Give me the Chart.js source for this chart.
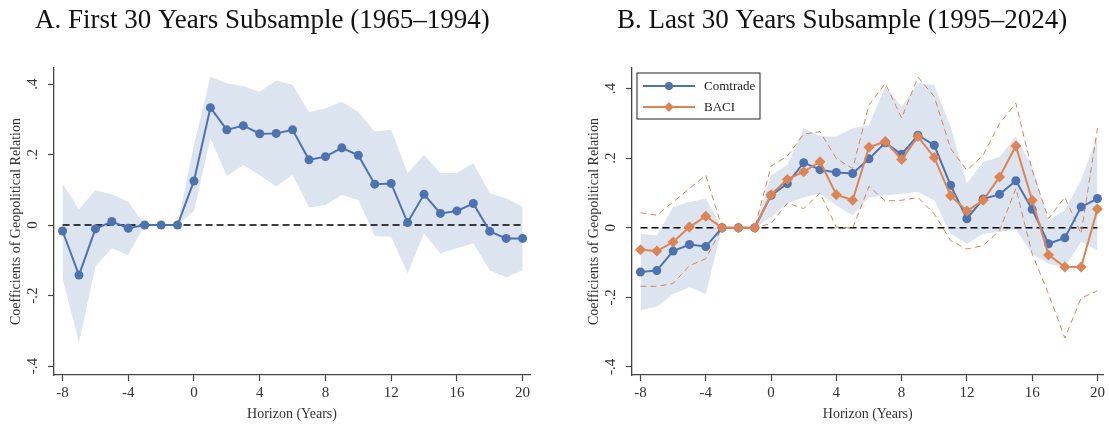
<!DOCTYPE html>
<html>
<head>
<meta charset="utf-8">
<script src="https://cdn.jsdelivr.net/npm/chart.js@4.4.1/dist/chart.umd.min.js"></script>
<style>
body { margin: 0; background: #fff; width: 1109px; height: 429px; position: relative; overflow: hidden; }
.panel { position: absolute; top: 0; height: 429px; }
#leftBox { left: 0; width: 554px; }
#rightBox { left: 578px; width: 531px; }
</style>
</head>
<body>
<div class="panel" id="leftBox"><canvas id="chartA"></canvas></div>
<div class="panel" id="rightBox"><canvas id="chartB"></canvas></div>
<script>
// horizons -8 .. 20
const horizons = [-8, -7, -6, -5, -4, -3, -2, -1, 0, 1, 2, 3, 4, 5, 6, 7, 8, 9, 10, 11, 12, 13, 14, 15, 16, 17, 18, 19, 20];
const xTicks = [-8, -4, 0, 4, 8, 12, 16, 20];
const yTicks = [-0.4, -0.2, 0, 0.2, 0.4];

// Panel A: 1965-1994
const firstCoef  = [-0.017, -0.142, -0.011, 0.010, -0.009, 0, 0, 0, 0.125, 0.333, 0.270, 0.282, 0.259, 0.260, 0.270, 0.185, 0.194, 0.219, 0.198, 0.116, 0.118, 0.007, 0.087, 0.033, 0.040, 0.061, -0.018, -0.038, -0.038];
const firstUpper = [0.118, 0.045, 0.099, 0.087, 0.066, 0, 0, 0, 0.227, 0.420, 0.402, 0.394, 0.378, 0.410, 0.397, 0.321, 0.331, 0.350, 0.321, 0.265, 0.270, 0.147, 0.199, 0.147, 0.148, 0.175, 0.090, 0.076, 0.052];
const firstLower = [-0.151, -0.334, -0.118, -0.066, -0.085, 0, 0, 0, 0.040, 0.246, 0.139, 0.170, 0.142, 0.109, 0.142, 0.050, 0.057, 0.085, 0.071, -0.031, -0.033, -0.137, -0.024, -0.080, -0.066, -0.052, -0.128, -0.148, -0.128];

// Panel B: 1995-2024
const comtradeCoef  = [-0.127, -0.123, -0.067, -0.048, -0.054, 0, 0, 0, 0.093, 0.127, 0.187, 0.167, 0.159, 0.156, 0.198, 0.244, 0.211, 0.266, 0.237, 0.122, 0.026, 0.083, 0.096, 0.135, 0.053, -0.046, -0.029, 0.060, 0.084];
const comtradeUpper = [-0.017, -0.022, 0.060, 0.074, 0.084, 0, 0, 0, 0.151, 0.180, 0.286, 0.263, 0.262, 0.286, 0.295, 0.406, 0.348, 0.415, 0.410, 0.290, 0.127, 0.189, 0.204, 0.262, 0.175, 0.021, 0.050, 0.137, 0.266];
const comtradeLower = [-0.237, -0.227, -0.190, -0.171, -0.190, 0, 0, 0, 0.031, 0.069, 0.088, 0.098, 0.064, 0.036, 0.088, 0.093, 0.098, 0.103, 0.079, -0.017, -0.046, -0.017, -0.012, -0.005, -0.075, -0.104, -0.113, -0.040, -0.065];
const baciCoef  = [-0.063, -0.067, -0.041, 0.002, 0.033, 0, 0, 0, 0.095, 0.139, 0.161, 0.190, 0.095, 0.079, 0.231, 0.248, 0.196, 0.262, 0.202, 0.092, 0.048, 0.079, 0.146, 0.235, 0.079, -0.078, -0.113, -0.113, 0.054];
const baciUpper = [0.043, 0.036, 0.074, 0.113, 0.151, 0, 0, 0, 0.177, 0.206, 0.269, 0.276, 0.199, 0.170, 0.353, 0.415, 0.315, 0.433, 0.377, 0.228, 0.165, 0.209, 0.300, 0.358, 0.165, 0.026, 0.088, -0.017, 0.286];
const baciLower = [-0.168, -0.168, -0.160, -0.109, -0.089, 0, 0, 0, 0.012, 0.071, 0.055, 0.100, 0.002, -0.001, 0.119, 0.077, 0.079, 0.087, 0.040, -0.037, -0.061, -0.051, -0.008, 0.113, -0.075, -0.190, -0.317, -0.202, -0.181];

const BLUE = "rgb(76, 114, 176)";
const ORANGE = "rgb(221, 132, 82)";
const BAND = "rgb(220, 228, 239)";
const AXIS = "#444";
const SERIF = "'Liberation Serif', 'DejaVu Serif', serif";

function pts(vals) {
    return horizons.map((h, i) => ({ x: h, y: vals[i] }));
}

function fmtY(v) {
    if (Math.abs(v) < 1e-9) return "0";
    return (v < 0 ? "-" : "") + Math.abs(v).toFixed(1).replace(/^0/, "");
}

function zeroLine() {
    return {
        label: "zero",
        data: [{ x: horizons[0], y: 0 }, { x: horizons[horizons.length - 1], y: 0 }],
        borderColor: "#000",
        borderWidth: 1.5,
        borderDash: [7, 4],
        pointRadius: 0,
        fill: false
    };
}

function bandPair(upper, lower) {
    return [
        { label: "upper", data: pts(upper), borderWidth: 0, pointRadius: 0, backgroundColor: BAND, fill: "+1", tension: 0 },
        { label: "lower", data: pts(lower), borderWidth: 0, pointRadius: 0, fill: false, tension: 0 }
    ];
}

// titles, rotated y tick labels, legend box
const decorPlugin = {
    id: "decor",
    afterDraw(chart, args, opts) {
        const ctx = chart.ctx;
        const y = chart.scales.y;
        ctx.save();
        ctx.fillStyle = "#111";
        ctx.font = "27px " + SERIF;
        ctx.textAlign = "left";
        ctx.textBaseline = "middle";
        ctx.fillText(opts.title, opts.titleX, 21);

        ctx.font = "15px " + SERIF;
        ctx.fillStyle = "#333";
        ctx.textAlign = "center";
        y.ticks.forEach(t => {
            ctx.save();
            ctx.translate(33, y.getPixelForValue(t.value));
            ctx.rotate(-Math.PI / 2);
            ctx.fillText(fmtY(t.value), 0, 0);
            ctx.restore();
        });

        if (opts.legend) {
            const lg = opts.legend;
            ctx.strokeStyle = "#222";
            ctx.lineWidth = 1;
            ctx.strokeRect(lg.x, lg.y, lg.w, lg.h);
            ctx.font = "13px " + SERIF;
            ctx.textAlign = "left";
            lg.items.forEach((it, i) => {
                const yy = lg.y + 13 + i * 21;
                ctx.strokeStyle = it.color;
                ctx.lineWidth = 2;
                ctx.beginPath();
                ctx.moveTo(lg.x + 6, yy);
                ctx.lineTo(lg.x + 58, yy);
                ctx.stroke();
                ctx.fillStyle = it.color;
                Chart.helpers.drawPoint(ctx, { pointStyle: it.style, radius: it.r, borderWidth: 0 }, lg.x + 32, yy);
                ctx.fillStyle = "#222";
                ctx.fillText(it.text, lg.x + 67, yy + 1);
            });
        }
        ctx.restore();
    }
};

function makeOptions(title, titleX, padRight, legend) {
    return {
        responsive: true,
        maintainAspectRatio: false,
        animation: false,
        layout: { padding: { top: 68, right: padRight, left: 0, bottom: 0 } },
        plugins: {
            legend: { display: false },
            tooltip: { enabled: false },
            decor: { title: title, titleX: titleX, legend: legend }
        },
        elements: { line: { tension: 0 } },
        scales: {
            x: {
                type: "linear",
                min: -8.52,
                max: 20.45,
                afterBuildTicks: s => { s.ticks = xTicks.map(v => ({ value: v })); },
                afterFit: s => { s.height = 54; },
                border: { display: true, color: AXIS, width: 1.3 },
                grid: { drawOnChartArea: false, drawTicks: true, tickLength: 6, color: AXIS, tickWidth: 1.2 },
                ticks: { color: "#333", font: { family: SERIF, size: 15 }, padding: 3, maxRotation: 0 },
                title: { display: true, text: "Horizon (Years)", color: "#333", font: { family: SERIF, size: 14 }, padding: { top: 0, bottom: 6 } }
            },
            y: {
                min: -0.4255,
                max: 0.4455,
                afterBuildTicks: s => { s.ticks = yTicks.map(v => ({ value: v })); },
                afterFit: s => { s.width = 54; },
                border: { display: true, color: AXIS, width: 1.3 },
                grid: { drawOnChartArea: false, drawTicks: true, tickLength: 6, color: AXIS, tickWidth: 1.2 },
                ticks: { display: false },
                title: { display: true, text: "Coefficients of Geopolitical Relation", color: "#333", font: { family: SERIF, size: 14 }, padding: { top: 8, bottom: 0 } }
            }
        }
    };
}

new Chart(document.getElementById("chartA"), {
    type: "line",
    data: {
        datasets: [
            { label: "Coefficient", data: pts(firstCoef), borderColor: BLUE, backgroundColor: BLUE, borderWidth: 2, pointRadius: 4.5, pointBorderWidth: 0, fill: false },
            zeroLine(),
            ...bandPair(firstUpper, firstLower)
        ]
    },
    options: makeOptions("A. First 30 Years Subsample (1965\u20131994)", 35, 24, null),
    plugins: [decorPlugin]
});

const optsB = makeOptions("B. Last 30 Years Subsample (1995\u20132024)", 39, 4, {
    x: 59, y: 73, w: 123, h: 46,
    items: [
        { text: "Comtrade", color: BLUE, style: "circle", r: 4 },
        { text: "BACI", color: ORANGE, style: "rectRot", r: 5 }
    ]
});
optsB.scales.x.max = 20.37;
optsB.scales.y.min = -0.423;
optsB.scales.y.max = 0.459;

new Chart(document.getElementById("chartB"), {
    type: "line",
    data: {
        datasets: [
            { label: "BACI", data: pts(baciCoef), borderColor: ORANGE, backgroundColor: ORANGE, borderWidth: 2, pointStyle: "rectRot", pointRadius: 5.5, pointBorderWidth: 0, fill: false },
            { label: "Comtrade", data: pts(comtradeCoef), borderColor: BLUE, backgroundColor: BLUE, borderWidth: 2, pointRadius: 4.5, pointBorderWidth: 0, fill: false },
            { label: "BACI upper", data: pts(baciUpper), borderColor: ORANGE, borderWidth: 1, borderDash: [6, 4], pointRadius: 0, fill: false },
            { label: "BACI lower", data: pts(baciLower), borderColor: ORANGE, borderWidth: 1, borderDash: [6, 4], pointRadius: 0, fill: false },
            zeroLine(),
            ...bandPair(comtradeUpper, comtradeLower)
        ]
    },
    options: optsB,
    plugins: [decorPlugin]
});
</script>
</body>
</html>
